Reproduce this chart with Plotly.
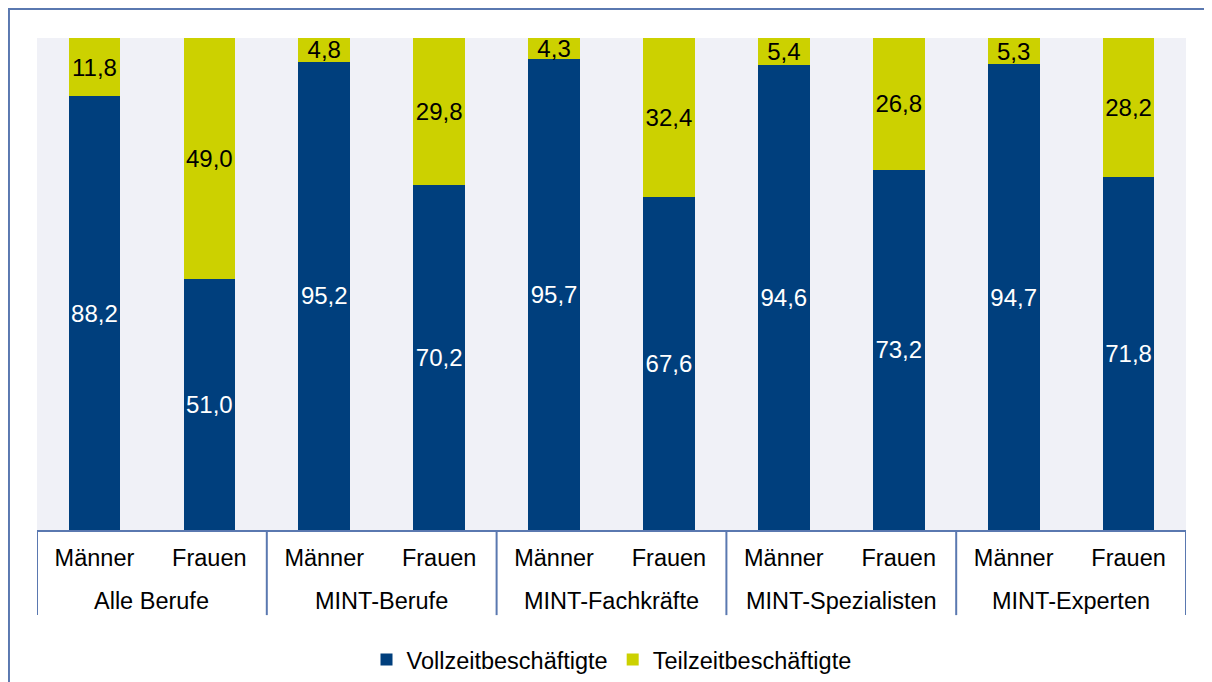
import plotly.graph_objects as go

groups = ["Alle Berufe", "MINT-Berufe", "MINT-Fachkräfte", "MINT-Spezialisten", "MINT-Experten"]
sexes = ["Männer", "Frauen"]
vollzeit = [88.2, 51.0, 95.2, 70.2, 95.7, 67.6, 94.6, 73.2, 94.7, 71.8]
teilzeit = [11.8, 49.0, 4.8, 29.8, 4.3, 32.4, 5.4, 26.8, 5.3, 28.2]

x_pos = list(range(len(groups) * len(sexes)))
x_inner = [s for _ in groups for s in sexes]

BLUE = "#003F7D"
YELLOW = "#CCD100"
LINE = "#5A78B0"
FONT = "Liberation Sans, Arial, sans-serif"


def fmt(v):
    return f"{v:.1f}".replace(".", ",")


fig = go.Figure()
fig.add_trace(go.Bar(
    x=x_pos, y=vollzeit, name="Vollzeitbeschäftigte",
    marker=dict(color=BLUE, line=dict(width=0)),
    text=[fmt(v) for v in vollzeit], textposition="inside",
    insidetextanchor="middle", constraintext="none", textangle=0,
    textfont=dict(color="white", size=24, family=FONT),
    width=0.45,
))
fig.add_trace(go.Bar(
    x=x_pos, y=teilzeit, name="Teilzeitbeschäftigte",
    marker=dict(color=YELLOW, line=dict(width=0)),
    text=[fmt(v) for v in teilzeit], textposition="inside",
    insidetextanchor="middle", constraintext="none", textangle=0,
    textfont=dict(color="black", size=24, family=FONT),
    width=0.45,
))

# group labels and divider lines below the axis
annotations = []
shapes = []
for i, g in enumerate(groups):
    annotations.append(dict(
        x=2 * i + 0.5, y=-0.1443, xref="x", yref="paper",
        text=g, showarrow=False, yanchor="middle",
        font=dict(size=23.5, family=FONT, color="black"),
    ))
for b in range(len(groups) + 1):
    shapes.append(dict(
        type="line", xref="x", yref="paper",
        x0=2 * b - 0.5, x1=2 * b - 0.5, y0=0, y1=-0.173,
        line=dict(color=LINE, width=2),
    ))
# outer frame
shapes.append(dict(
    type="rect", xref="paper", yref="paper",
    x0=-0.0244, x1=1.1, y0=-0.4, y1=1.059,
    line=dict(color=LINE, width=2), layer="below",
))

fig.update_layout(
    barmode="stack",
    width=1204, height=674,
    margin=dict(l=29, r=26, t=30, b=152),
    paper_bgcolor="white",
    plot_bgcolor="#F0F1F7",
    font=dict(family=FONT, size=23.5, color="black"),
    showlegend=True,
    legend=dict(orientation="h", x=0.5, xanchor="center",
                yref="container", y=0.033, yanchor="middle",
                font=dict(size=23.5), itemwidth=30, traceorder="normal"),
    xaxis=dict(
        range=[-0.5, 9.5], tickvals=x_pos, ticktext=x_inner,
        showline=True, linecolor=LINE, linewidth=2, showgrid=False,
        zeroline=False, ticks="", tickfont=dict(size=23.5),
        ticklabelstandoff=6, automargin=False,
    ),
    yaxis=dict(range=[0, 100], showticklabels=False, showgrid=False,
               zeroline=False, showline=False),
    annotations=annotations,
    shapes=shapes,
)

fig.write_html("out.html")
